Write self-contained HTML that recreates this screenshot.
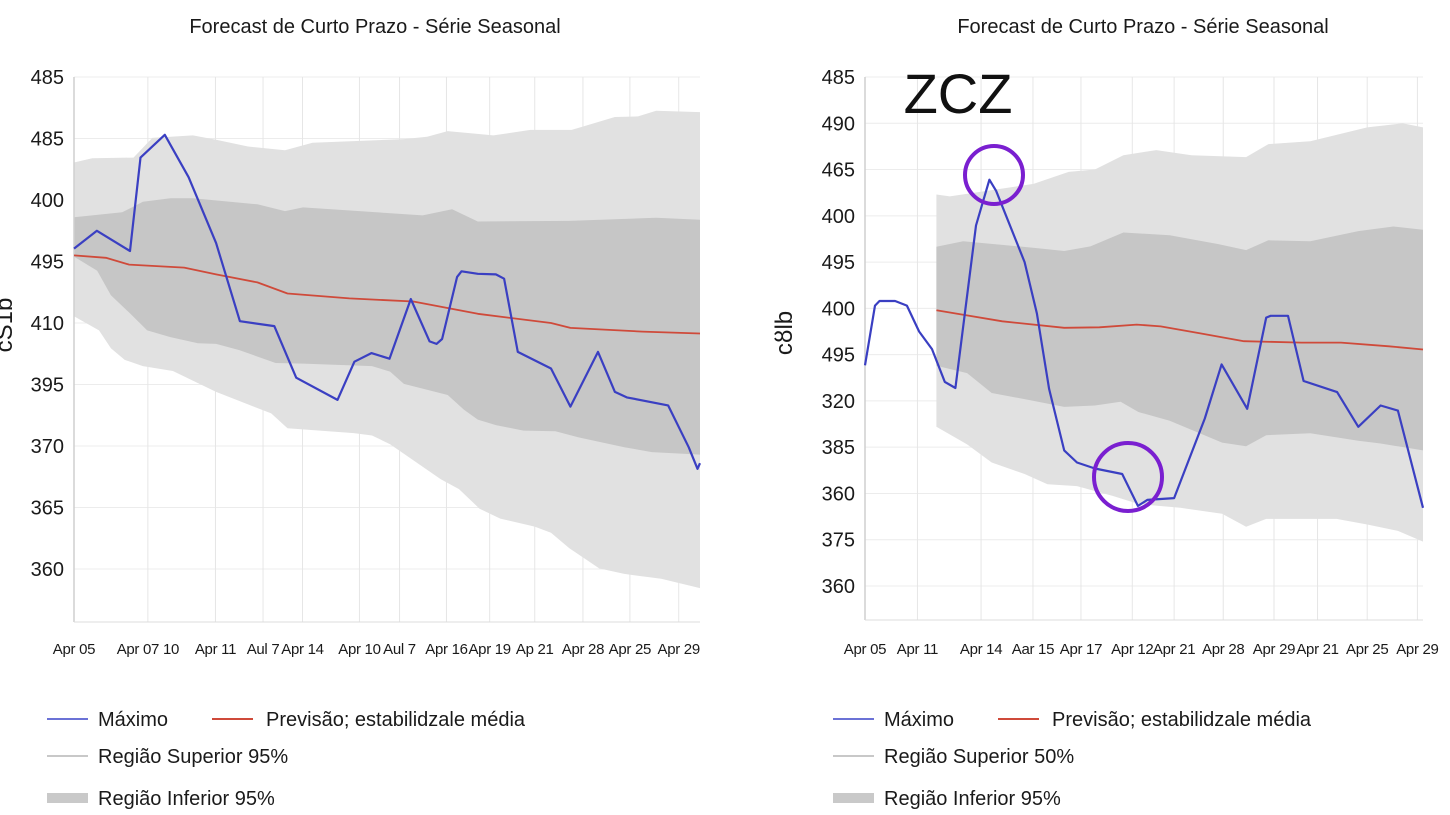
<!DOCTYPE html>
<html><head><meta charset="utf-8">
<style>
html,body{margin:0;padding:0;background:#fff;}
svg{display:block;font-family:"Liberation Sans","DejaVu Sans",sans-serif;}
</style></head>
<body>
<svg id="c" width="1450" height="815" viewBox="0 0 1450 815" xmlns="http://www.w3.org/2000/svg"></svg>
<script>
// ---- Left chart data (x: 0..100 time fraction, y: tick units) ----
const leftYTicks = ["485","485","400","495","410","395","370","365","360"];
const leftXTicks = ["Apr 05","Apr 07 10","Apr 11","Aul 7","Apr 14","Apr 10","Aul 7","Apr 16","Apr 19","Ap 21","Apr 28","Apr 25","Apr 29"];
const leftXTickPos = [0,11.8,22.6,30.2,36.5,45.6,52,59.5,66.4,73.6,81.3,88.8,96.6];
const leftMaxX = [0,3.66,8.94,10.62,14.5,18.3,22.7,26.5,32.0,35.5,42.1,44.8,47.5,50.4,53.8,56.8,57.9,58.8,61.2,61.9,64.5,67.4,68.7,70.9,76.2,79.3,83.7,86.4,88.3,94.9,98.2,99.6,100];
const leftMaxY = [5.21,5.50,5.17,6.69,7.06,6.37,5.30,4.03,3.95,3.11,2.75,3.37,3.51,3.42,4.39,3.70,3.66,3.74,4.75,4.84,4.80,4.79,4.72,3.53,3.26,2.64,3.53,2.88,2.79,2.66,1.98,1.63,1.72];
const leftMeanX = [0,5.1,8.8,17.6,22.7,29.3,34.1,44,54.2,64.5,76.2,79.3,90.8,100];
const leftMeanY = [5.10,5.06,4.95,4.90,4.79,4.66,4.48,4.40,4.35,4.15,4.0,3.92,3.86,3.83];
const leftOuterUpX = [0,2.9,9.5,12.5,19,22.7,27.8,33.7,38.1,52.7,56.4,59.7,67,72.9,79.5,86.4,90.1,93,100];
const leftOuterUpY = [6.61,6.68,6.69,7.01,7.05,6.98,6.87,6.81,6.93,6.99,7.03,7.12,7.05,7.14,7.14,7.35,7.36,7.45,7.43];
const leftOuterLoX = [0,4.0,5.9,8.1,11,15.8,22.7,31.5,34.1,44.7,47.6,50.5,58.6,61.5,64.8,68.1,73.6,76.2,79.1,83.9,87.9,93.8,100];
const leftOuterLoY = [4.11,3.88,3.59,3.40,3.30,3.22,2.88,2.53,2.29,2.21,2.17,2.03,1.46,1.30,0.98,0.82,0.69,0.59,0.34,0.01,-0.08,-0.16,-0.31];
const leftInnerUpX = [0,7.7,11,15.4,19,29.3,33.7,36.6,55.7,60.4,64.5,79.1,93,100];
const leftInnerUpY = [5.72,5.80,5.97,6.03,6.03,5.93,5.82,5.88,5.75,5.85,5.65,5.66,5.71,5.68];
const leftInnerLoX = [0,3.7,5.9,8.8,11.7,15.4,19.8,22.7,26.4,32.2,36.6,47.6,50.5,52.7,59.7,62.3,64.5,67.4,71.8,76.9,80.6,87.9,92.3,100];
const leftInnerLoY = [5.08,4.85,4.45,4.17,3.88,3.77,3.67,3.66,3.56,3.35,3.34,3.30,3.21,3.01,2.83,2.59,2.43,2.34,2.25,2.24,2.14,1.98,1.90,1.86];

// ---- Right chart data ----
const rightYTicks = ["485","490","465","400","495","400","495","320","385","360","375","360"];
const rightXTicks = ["Apr 05","Apr 11","Apr 14","Aar 15","Apr 17","Apr 12","Apr 21","Apr 28","Apr 29","Apr 21","Apr 25","Apr 29"];
const rightXTickPos = [0,9.4,20.8,30.1,38.7,47.9,55.4,64.2,73.3,81.1,90,99];
const rightMaxX = [0,1.8,2.6,5.4,7.5,9.7,12,14.3,16.2,19.9,22.3,23.5,28.6,30.8,33,35.7,38,41.2,46.1,48.9,50.6,55.4,60.9,63.9,68.5,71.9,72.7,75.8,78.6,84.6,88.4,92.4,95.5,100];
const rightMaxY = [4.77,6.06,6.16,6.16,6.06,5.50,5.12,4.41,4.28,7.79,8.78,8.54,7.0,5.89,4.26,2.93,2.67,2.54,2.42,1.73,1.86,1.90,3.62,4.79,3.83,5.80,5.84,5.84,4.43,4.19,3.44,3.90,3.79,1.69];
const rightMeanX = [12.8,17.6,24.6,35.7,42,48.7,53,60.1,67.9,78.2,85.3,93.9,100];
const rightMeanY = [5.96,5.86,5.72,5.58,5.59,5.65,5.61,5.46,5.29,5.26,5.26,5.18,5.11];
const rightOuterUpX = [12.8,15.2,30.2,36.5,41.2,46.3,52.2,58.5,68.3,72.3,79.8,90,96.3,100];
const rightOuterUpY = [8.46,8.42,8.69,8.95,9.0,9.31,9.42,9.31,9.27,9.55,9.61,9.91,10.0,9.91];
const rightOuterLoX = [12.8,18.3,22.7,28.6,32.7,38,44.3,49.1,56.5,64,68.3,71.9,84.5,90,95.5,100];
const rightOuterLoY = [3.44,3.06,2.67,2.42,2.20,2.16,1.95,1.77,1.69,1.56,1.28,1.45,1.45,1.33,1.19,0.96];
const rightInnerUpX = [12.8,17.6,31,35.7,40.4,46.3,54.6,63.2,68.3,72.3,79.8,88.4,94.7,100];
const rightInnerUpY = [7.33,7.45,7.30,7.24,7.34,7.64,7.58,7.39,7.26,7.47,7.45,7.67,7.77,7.70];
const rightInnerLoX = [12.8,18.3,22.7,28.6,35.7,41.2,45.8,49,54.6,64,68.3,71.9,79.8,88.4,92.4,100];
const rightInnerLoY = [4.76,4.60,4.17,4.04,3.87,3.90,3.98,3.76,3.57,3.10,3.02,3.26,3.30,3.14,3.08,2.93];

const NS = "http://www.w3.org/2000/svg";
const svg = document.getElementById('c');
function mk(tag, attrs, parent){
  const e = document.createElementNS(NS, tag);
  for (const k in attrs) e.setAttribute(k, attrs[k]);
  (parent||svg).appendChild(e);
  return e;
}
function drawChart(cfg){
  const g = mk('g', {});
  
  
  const nT = cfg.yTicks.length - 1;
  const sx = v => cfg.x0 + (cfg.x1 - cfg.x0) * v / 100;
  const sy = v => cfg.yBot - (cfg.yBot - cfg.yTop) * v / nT;
  cfg.yTicks.forEach((t, i) => {
    const yy = sy(nT - i);
    const l = mk('line', {x1: cfg.x0, x2: cfg.x1, y1: yy, y2: yy, stroke: '#ececec', 'stroke-width': 1}, g);
    
    
    const tx = mk('text', {x: cfg.x0 - 10, y: yy + 7, 'text-anchor': 'end', 'font-size': 20, fill: '#1a1a1a'}, g);
    
    
    tx.textContent = t;
  });
  cfg.xTickPos.forEach((p, i) => {
    const xx = sx(p);
    const l = mk('line', {x1: xx, x2: xx, y1: cfg.yTop, y2: cfg.axisY, stroke: '#e6e6e6', 'stroke-width': 1}, g);
    
    
    const tx = mk('text', {x: xx, y: 654, 'text-anchor': 'middle', 'font-size': 15, fill: '#1a1a1a', 'letter-spacing': '-0.3'}, g);
    
    
    tx.textContent = cfg.xTicks[i];
  });
  function band(ux, uy, lx, ly, fill, name){
    let d = 'M' + ux.map((v, i) => sx(v).toFixed(1) + ',' + sy(uy[i]).toFixed(1)).join('L');
    for (let i = lx.length - 1; i >= 0; i--) d += 'L' + sx(lx[i]).toFixed(1) + ',' + sy(ly[i]).toFixed(1);
    const p = mk('path', {d: d + 'Z', fill: fill}, g);
    
    
  }
  band(cfg.ouX, cfg.ouY, cfg.olX, cfg.olY, '#e1e1e1', 'outer-95-band');
  band(cfg.iuX, cfg.iuY, cfg.ilX, cfg.ilY, '#c6c6c6', 'inner-band');
  const ya = mk('line', {x1: cfg.x0, x2: cfg.x0, y1: cfg.yTop, y2: cfg.axisY, stroke: '#cfcfcf', 'stroke-width': 1.5}, g);
  
  
  const xa = mk('line', {x1: cfg.x0, x2: cfg.x1, y1: cfg.axisY, y2: cfg.axisY, stroke: '#dcdcdc', 'stroke-width': 1}, g);
  
  
  function line(xs, ys, color, w, name){
    const p = mk('polyline', {points: xs.map((v, i) => sx(v).toFixed(1) + ',' + sy(ys[i]).toFixed(1)).join(' '), fill: 'none', stroke: color, 'stroke-width': w, 'stroke-linejoin': 'round'}, g);
    
    
  }
  line(cfg.mX, cfg.mY, '#cf4a3a', 1.8, 'forecast-mean-line');
  line(cfg.bX, cfg.bY, '#3a3fc2', 2.2, 'maximum-line');
  const tt = mk('text', {x: cfg.titleX, y: 33, 'text-anchor': 'middle', 'font-size': 20, fill: '#1a1a1a'}, g);
  
  
  tt.textContent = 'Forecast de Curto Prazo - Série Seasonal';
  const yt = mk('text', {x: 0, y: 0, 'text-anchor': 'middle', 'font-size': 24, fill: '#1a1a1a', transform: 'translate(' + cfg.ytX + ',' + cfg.ytY + ') rotate(-90)'}, g);
  
  
  yt.textContent = cfg.ytText;
  const lx = cfg.legX;
  const lg = mk('g', {}, g);
  
  
  const items = [
    {x: lx, y: 719, w: 41, sw: 2, c: '#6b72d6', t: 'Máximo', n: 'legend-maximum'},
    {x: lx + 165, y: 719, w: 41, sw: 2, c: '#cf4a3a', t: 'Previsão; estabilidzale média', n: 'legend-forecast'},
    {x: lx, y: 756, w: 41, sw: 2, c: '#c8c8c8', t: cfg.supText, n: 'legend-upper-region'},
    {x: lx, y: 798, w: 41, sw: 10, c: '#c9c9c9', t: 'Região Inferior 95%', n: 'legend-lower-region'}
  ];
  items.forEach(it => {
    const l = mk('line', {x1: it.x, x2: it.x + it.w, y1: it.y, y2: it.y, stroke: it.c, 'stroke-width': it.sw}, lg);
    
    
    const t = mk('text', {x: it.x + it.w + 10 + (it.n === 'legend-forecast' ? 3 : 0), y: it.y + 7, 'font-size': 20, fill: '#1a1a1a'}, lg);
    
    
    t.textContent = it.t;
  });
  return {sx, sy, g};
}
drawChart({name: 'left-chart', x0: 74, x1: 700, yTop: 77, yBot: 569, axisY: 622, yTicks: leftYTicks,
  xTicks: leftXTicks, xTickPos: leftXTickPos, bX: leftMaxX, bY: leftMaxY, mX: leftMeanX, mY: leftMeanY,
  ouX: leftOuterUpX, ouY: leftOuterUpY, olX: leftOuterLoX, olY: leftOuterLoY,
  iuX: leftInnerUpX, iuY: leftInnerUpY, ilX: leftInnerLoX, ilY: leftInnerLoY,
  titleX: 375, ytX: 12, ytY: 325, ytText: 'cS1b', legX: 47, supText: 'Região Superior 95%'});
drawChart({name: 'right-chart', x0: 865, x1: 1423, yTop: 77, yBot: 586, axisY: 620, yTicks: rightYTicks,
  xTicks: rightXTicks, xTickPos: rightXTickPos, bX: rightMaxX, bY: rightMaxY, mX: rightMeanX, mY: rightMeanY,
  ouX: rightOuterUpX, ouY: rightOuterUpY, olX: rightOuterLoX, olY: rightOuterLoY,
  iuX: rightInnerUpX, iuY: rightInnerUpY, ilX: rightInnerLoX, ilY: rightInnerLoY,
  titleX: 1143, ytX: 792, ytY: 333, ytText: 'cȣlb', legX: 833, supText: 'Região Superior 50%'});
const z = mk('text', {x: 958, y: 113, 'text-anchor': 'middle', 'font-size': 56, fill: '#111'});


z.textContent = 'ZCZ';
const c1 = mk('circle', {cx: 994, cy: 175, r: 29, fill: 'none', stroke: '#7a1fd0', 'stroke-width': 4});


const c2 = mk('circle', {cx: 1128, cy: 477, r: 34, fill: 'none', stroke: '#7a1fd0', 'stroke-width': 4});


</script>
</body></html>
